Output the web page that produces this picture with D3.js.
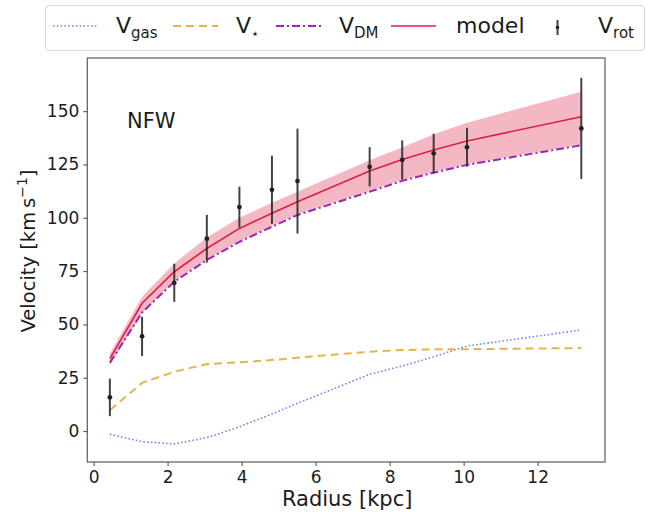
<!DOCTYPE html>
<html>
<head>
<meta charset="utf-8">
<script src="https://cdn.jsdelivr.net/npm/d3@7"></script>
<style>
  body { margin: 0; background: #fff; }
  svg { display: block; font-family: 'DejaVu Sans', sans-serif; }
</style>
</head>
<body>
<svg id="chart" width="648" height="519"></svg>
<script>
// radii where everything was evaluated (kpc)
const radius = [0.44, 1.31, 2.18, 3.06, 3.94, 4.82, 5.51, 7.46, 8.34, 9.19, 10.09, 13.18];
const vrot   = [15.8, 44.4, 69.5, 90.2, 105.0, 113.1, 117.2, 123.9, 127.1, 130.2, 133.1, 141.9];
const vrotErr = [8.8, 9.2, 8.9, 11.2, 9.6, 16.0, 24.6, 9.2, 9.2, 9.2, 9.1, 23.7];
const vmodel = [34.0, 59.9, 74.7, 85.6, 95.0, 102.1, 107.5, 121.9, 127.3, 131.8, 136.0, 147.4];
const vmodelHi = [36.4, 63.0, 78.6, 90.8, 100.0, 107.0, 112.2, 127.0, 133.0, 139.2, 144.6, 159.1];
const vmodelLo = [30.9, 55.2, 70.3, 80.5, 89.0, 96.1, 101.6, 112.6, 117.7, 121.5, 125.1, 134.4];
const vdm    = [32.0, 55.6, 70.0, 80.2, 88.7, 95.8, 101.3, 112.2, 117.3, 121.1, 124.8, 134.0];
const vstar  = [9.8, 22.6, 27.8, 31.4, 32.2, 33.3, 34.4, 37.2, 38.0, 38.3, 38.4, 38.9];
const vgas   = [-1.5, -5.0, -6.0, -3.1, 2.0, 8.0, 13.0, 26.6, 30.5, 34.8, 39.9, 47.4];
const xTicks = [0, 2, 4, 6, 8, 10, 12];
const yTicks = [0, 25, 50, 75, 100, 125, 150];

const svg = d3.select('#chart');
const frame = { left: 87.3, right: 605, top: 58, bottom: 462 };

const x = d3.scaleLinear().domain([-0.17, 13.82]).range([frame.left, frame.right]);
const y = d3.scaleLinear().domain([-14.5, 174.9]).range([frame.bottom, frame.top]);

const textColor = '#1c1c1c';
const colors = {
  gas: '#6d8be6',
  star: '#e8b445',
  dm: '#9a26b8',
  model: '#dc1f45',
  rot: '#222'
};

// model uncertainty band
const band = d3.area()
  .x((d, i) => x(radius[i]))
  .y0((d, i) => y(vmodelLo[i]))
  .y1((d, i) => y(vmodelHi[i]));

svg.append('path')
  .datum(vmodel)
  .attr('d', band)
  .attr('fill', '#dc143c')
  .attr('fill-opacity', 0.3);

const line = d3.line().x((d, i) => x(radius[i])).y((d) => y(d));

const curves = [
  { key: 'gas', values: vgas, dash: '1.6,2.2', width: 1.6 },
  { key: 'star', values: vstar, dash: '8,5', width: 2 },
  { key: 'dm', values: vdm, dash: '8,3,2,3', width: 2 },
  { key: 'model', values: vmodel, dash: null, width: 1.6 }
];

svg.selectAll('path.curve')
  .data(curves)
  .enter()
  .append('path')
  .attr('class', 'curve')
  .attr('d', (d) => line(d.values))
  .attr('fill', 'none')
  .attr('stroke', (d) => colors[d.key])
  .attr('stroke-width', (d) => d.width)
  .attr('stroke-dasharray', (d) => d.dash);

// rotation curve with error bars
const pts = svg.append('g')
  .selectAll('g')
  .data(vrot)
  .enter()
  .append('g');

pts.append('line')
  .attr('x1', (d, i) => x(radius[i]))
  .attr('x2', (d, i) => x(radius[i]))
  .attr('y1', (d, i) => y(d - vrotErr[i]))
  .attr('y2', (d, i) => y(d + vrotErr[i]))
  .attr('stroke', colors.rot)
  .attr('stroke-opacity', 0.85)
  .attr('stroke-width', 2);

pts.append('circle')
  .attr('cx', (d, i) => x(radius[i]))
  .attr('cy', (d) => y(d))
  .attr('r', 2.4)
  .attr('fill', colors.rot);

// frame
svg.append('rect')
  .attr('x', frame.left)
  .attr('y', frame.top)
  .attr('width', frame.right - frame.left)
  .attr('height', frame.bottom - frame.top)
  .attr('fill', 'none')
  .attr('stroke', '#666')
  .attr('stroke-width', 1.3);

// axes
const xAxis = svg.append('g')
  .attr('transform', 'translate(0,' + frame.bottom + ')')
  .call(d3.axisBottom(x).tickValues(xTicks).tickSize(4).tickPadding(5));
const yAxis = svg.append('g')
  .attr('transform', 'translate(' + frame.left + ',0)')
  .call(d3.axisLeft(y).tickValues(yTicks).tickSize(4).tickPadding(4));

[xAxis, yAxis].forEach((ax) => {
  ax.select('.domain').remove();
  ax.selectAll('.tick line').attr('stroke', '#555').attr('stroke-width', 1.1);
  ax.selectAll('.tick text')
    .attr('fill', textColor)
    .style('font-family', "'DejaVu Sans', sans-serif")
    .style('font-size', '17px');
});

svg.append('text')
  .attr('x', (frame.left + frame.right) / 2 + 1)
  .attr('y', 506)
  .attr('text-anchor', 'middle')
  .attr('fill', textColor)
  .style('font-size', '21px')
  .text('Radius [kpc]');

const yLabel = svg.append('text')
  .attr('transform', 'translate(35,' + 251 + ') rotate(-90)')
  .attr('text-anchor', 'middle')
  .attr('fill', textColor)
  .style('font-size', '19.5px');
yLabel.append('tspan').text('Velocity [km\u2009s');
yLabel.append('tspan').attr('dy', -8).style('font-size', '14px').text('\u22121');
yLabel.append('tspan').attr('dy', 8).text(']');

svg.append('text')
  .attr('x', 127)
  .attr('y', 128)
  .attr('fill', textColor)
  .style('font-size', '21px')
  .text('NFW');

// legend
const legend = svg.append('g');
legend.append('rect')
  .attr('x', 45.5)
  .attr('y', 5.5)
  .attr('width', 599)
  .attr('height', 45)
  .attr('rx', 4)
  .attr('fill', '#fff')
  .attr('stroke', '#d8d8d8')
  .attr('stroke-width', 1.2);

const legendItems = [
  { key: 'gas', main: 'V', sub: 'gas', x: 53 },
  { key: 'star', main: 'V', sub: '\u22c6', x: 173 },
  { key: 'dm', main: 'V', sub: 'DM', x: 276 },
  { key: 'model', main: 'model', sub: null, x: 391 },
  { key: 'rot', main: 'V', sub: 'rot', x: 535 }
];
const styleOf = {};
curves.forEach((c) => styleOf[c.key] = c);

const li = legend.selectAll('g.item')
  .data(legendItems)
  .enter()
  .append('g')
  .attr('class', 'item')
  .attr('transform', (d) => 'translate(' + d.x + ',0)');

li.filter((d) => d.key !== 'rot')
  .append('line')
  .attr('x1', 0)
  .attr('x2', 45)
  .attr('y1', 26)
  .attr('y2', 26)
  .attr('stroke', (d) => colors[d.key])
  .attr('stroke-width', (d) => styleOf[d.key].width)
  .attr('stroke-dasharray', (d) => styleOf[d.key].dash);

const rotKey = li.filter((d) => d.key === 'rot');
rotKey.append('line')
  .attr('x1', 22.5).attr('x2', 22.5)
  .attr('y1', 20).attr('y2', 35)
  .attr('stroke', colors.rot)
  .attr('stroke-opacity', 0.85)
  .attr('stroke-width', 2);
rotKey.append('circle')
  .attr('cx', 22.5).attr('cy', 27.5).attr('r', 1.8)
  .attr('fill', colors.rot);

const lt = li.append('text')
  .attr('x', (d) => d.key === 'model' ? 65 : 63)
  .attr('y', 33)
  .attr('fill', textColor)
  .style('font-size', '22px');
lt.append('tspan').text((d) => d.main);
lt.filter((d) => d.sub)
  .append('tspan')
  .attr('dy', 5)
  .style('font-size', (d) => d.key === 'star' ? '13px' : '15px')
  .text((d) => d.sub);
</script>
</body>
</html>
